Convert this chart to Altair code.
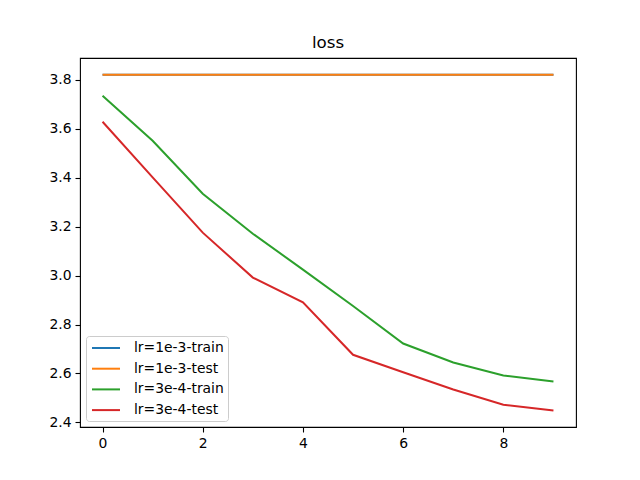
import altair as alt
import pandas as pd

epochs = list(range(10))
series_names = ["lr=1e-3-train", "lr=1e-3-test", "lr=3e-4-train", "lr=3e-4-test"]
series_colors = ["#1f77b4", "#ff7f0e", "#2ca02c", "#d62728"]
lr1e3_train = [3.8204] * 10
lr1e3_test = [3.8204] * 10
lr3e4_train = [3.7347, 3.551, 3.3347, 3.171, 3.0245, 2.8755, 2.7224, 2.6449, 2.5918, 2.5673]
lr3e4_test = [3.6286, 3.4012, 3.1755, 2.9918, 2.891, 2.6763, 2.6053, 2.5347, 2.4722, 2.449]
x_ticks = [0, 2, 4, 6, 8]
y_ticks = [2.4, 2.6, 2.8, 3.0, 3.2, 3.4, 3.6, 3.8]

rows = []
for name, vals in zip(series_names, [lr1e3_train, lr1e3_test, lr3e4_train, lr3e4_test]):
    for e, v in zip(epochs, vals):
        rows.append({"epoch": e, "loss": v, "series": name})
df = pd.DataFrame(rows)
df["order"] = df["series"].map({n: i for i, n in enumerate(series_names)})

FONT = "DejaVu Sans"

chart = alt.Chart(df).mark_line(strokeWidth=2, clip=True).encode(
    x=alt.X("epoch:Q",
            scale=alt.Scale(domain=[-0.45, 9.45], nice=False, zero=False),
            axis=alt.Axis(values=x_ticks, title=None, grid=False, format="d",
                          tickSize=5, tickWidth=1.1, tickColor="black",
                          labelColor="black", labelFontSize=13.9, labelPadding=4,
                          domain=False, labelFont=FONT)),
    y=alt.Y("loss:Q",
            scale=alt.Scale(domain=[2.3813, 3.8891], nice=False, zero=False),
            axis=alt.Axis(values=y_ticks, title=None, grid=False, format=".1f",
                          tickSize=5, tickWidth=1.1, tickColor="black",
                          labelColor="black", labelFontSize=13.9, labelPadding=4,
                          domain=False, labelFont=FONT)),
    color=alt.Color("series:N",
                    scale=alt.Scale(domain=series_names, range=series_colors),
                    sort=series_names,
                    legend=alt.Legend(title=None, orient="bottom-left", offset=6,
                                      symbolType="M-2,0L2,0", symbolSize=196,
                                      symbolOffset=8,
                                      symbolStrokeWidth=2, symbolFillColor="transparent",
                                      labelFontSize=13.9,
                                      labelFont=FONT, labelColor="black",
                                      labelOffset=20, rowPadding=5.7, padding=4,
                                      strokeColor="#cccccc", fillColor="white",
                                      cornerRadius=3)),
    order=alt.Order("order:Q"),
).properties(
    width=496, height=369,
    title=alt.TitleParams("loss", font=FONT, fontSize=16.7, fontWeight="normal",
                          color="black", anchor="middle", offset=6),
    autosize=alt.AutoSizeParams(type="none"),
    padding={"left": 72, "top": 50, "right": 56, "bottom": 45},
    background="white",
).configure_view(
    stroke="black", strokeWidth=1.1
)

chart.save("out.html", embed_options={"renderer": "svg", "actions": False})
